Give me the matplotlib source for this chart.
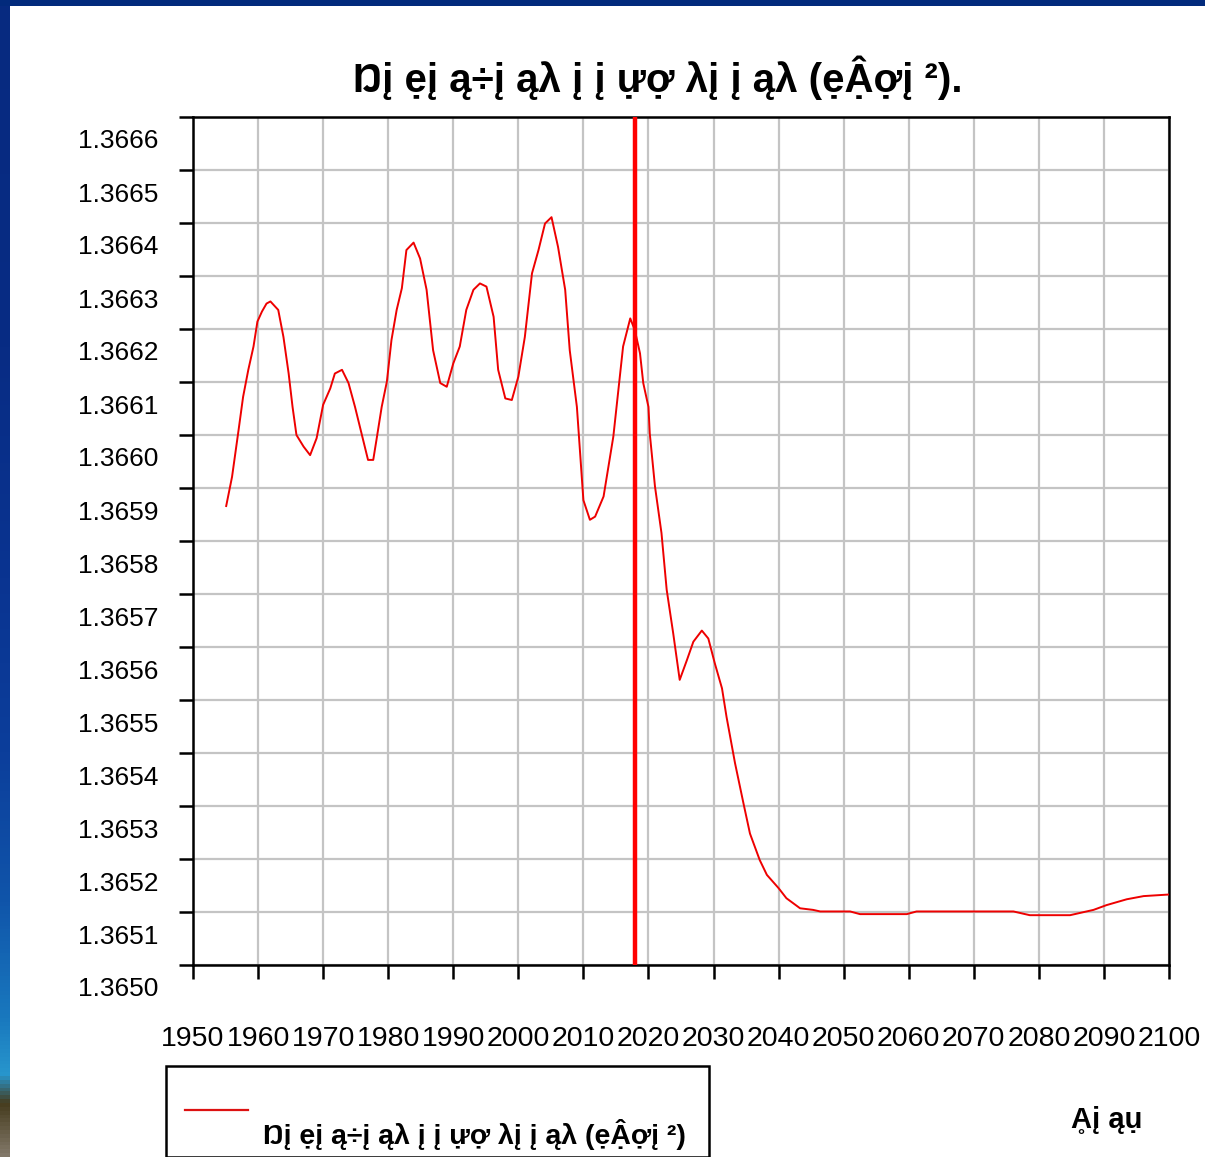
import numpy as np
import matplotlib
matplotlib.use("Agg")
import matplotlib.pyplot as plt
from matplotlib.patches import Rectangle
from matplotlib.lines import Line2D
from matplotlib.transforms import ScaledTranslation

plt.rcParams['font.family'] = ['Liberation Sans', 'DejaVu Sans']

# ---------------- data ----------------
years = [1955.1, 1956.0, 1957.0, 1957.7, 1958.5, 1959.3, 1959.9, 1960.6, 1961.3, 1961.9,
         1963.1, 1963.9, 1964.7, 1965.3, 1965.9, 1967.0, 1968.0, 1969.0, 1970.0, 1971.1,
         1971.8, 1972.9, 1973.9, 1974.9, 1975.9, 1976.9, 1977.7, 1978.2, 1979.0, 1979.8,
         1980.5, 1981.3, 1982.1, 1982.8, 1983.9, 1984.9, 1985.9, 1986.4, 1986.9, 1988.0,
         1989.0, 1990.0, 1991.0, 1992.0, 1993.1, 1994.1, 1995.1, 1996.2, 1996.9, 1998.0,
         1999.0, 2000.0, 2001.0, 2002.1, 2003.1, 2004.1, 2005.1, 2006.1, 2007.2, 2007.9,
         2009.0, 2010.0, 2011.0, 2011.8, 2013.1, 2014.6, 2016.1, 2017.2, 2017.9, 2018.7,
         2019.2, 2020.0, 2020.2, 2021.0, 2022.0, 2022.8, 2023.8, 2024.8, 2025.9, 2026.9,
         2028.2, 2029.2, 2030.2, 2031.3, 2032.0, 2033.3, 2034.6, 2035.6, 2037.1, 2038.2,
         2040.0, 2041.2, 2043.3, 2045.3, 2046.4, 2051.0, 2052.5, 2059.7, 2061.2, 2076.1,
         2078.6, 2084.8, 2088.4, 2090.4, 2093.5, 2096.1, 2100.0]
values = [1.365866, 1.365921, 1.366009, 1.366072, 1.366123, 1.366167, 1.366214, 1.366233,
          1.366248, 1.366252, 1.366236, 1.366185, 1.366116, 1.366053, 1.366000, 1.365978,
          1.365962, 1.365994, 1.366057, 1.366088, 1.366116, 1.366123, 1.366098, 1.366053,
          1.366003, 1.365953, 1.365953, 1.365991, 1.366053, 1.366101, 1.366179, 1.366236,
          1.366277, 1.366349, 1.366363, 1.366333, 1.366274, 1.366217, 1.366160, 1.366098,
          1.366091, 1.366135, 1.366167, 1.366236, 1.366274, 1.366286, 1.366280, 1.366223,
          1.366123, 1.366069, 1.366066, 1.366110, 1.366185, 1.366305, 1.366349, 1.366399,
          1.366411, 1.366355, 1.366274, 1.366160, 1.366053, 1.365877, 1.365840, 1.365846,
          1.365884, 1.365997, 1.366167, 1.366220, 1.366198, 1.366154, 1.366098, 1.366053,
          1.366003, 1.365903, 1.365815, 1.365708, 1.365626, 1.365538, 1.365575, 1.365610,
          1.365631, 1.365616, 1.365569, 1.365522, 1.365468, 1.365381, 1.365305, 1.365248,
          1.365198, 1.365170, 1.365145, 1.365126, 1.365107, 1.365104, 1.365101, 1.365101,
          1.365096, 1.365096, 1.365101, 1.365101, 1.365094, 1.365094, 1.365104, 1.365113,
          1.365124, 1.365130, 1.365133]

marker_year = 2018
x_ticks = list(range(1950, 2101, 10))
y_ticks = [round(1.3650 + i * 0.0001, 4) for i in range(17)]
y_labels = ["%.4f" % v for v in y_ticks]

title = "Ŋį ẹį ą÷į ąλ į į ựợ λį į ąλ (ẹẬợį ²)."
legend_label = "Ŋį ẹį ą÷į ąλ į į ựợ λį į ąλ (ẹẬợį ²)"
x_label = "Ḁį ąụ"

# ---------------- figure ----------------
W, H = 1205, 1157
fig = plt.figure(figsize=(W / 100, H / 100), dpi=100)
fig.patch.set_facecolor("white")

# slide background: dark top bar and gradient strip on the left
bg = fig.add_axes([0, 0, 10 / W, 1])
bg.axis("off")
strip = np.array([
    [7, 42, 128], [8, 44, 132], [10, 52, 145], [12, 62, 155],
    [16, 85, 170], [25, 120, 190], [40, 150, 205], [70, 60, 30], [130, 120, 105],
]) / 255.0
stops = np.array([0.0, 0.3, 0.5, 0.65, 0.78, 0.88, 0.93, 0.955, 1.0])
yy = np.linspace(0, 1, 300)
grad = np.stack([np.interp(yy, stops, strip[:, c]) for c in range(3)], axis=1)
bg.imshow(grad[:, None, :], aspect="auto", extent=[0, 1, 1, 0])
bg.set_xlim(0, 1)
bg.set_ylim(1, 0)
fig.patches.append(Rectangle((0, 1 - 6 / H), 1, 6 / H, transform=fig.transFigure,
                             facecolor="#022a7c", edgecolor="none", zorder=5))

ax = fig.add_axes([193 / W, (H - 965) / H, 976 / W, 848 / H])
ax.plot(years, values, color="#ee0000", lw=1.4, zorder=3)
ax.axvline(marker_year, color="#ff0000", lw=3.2, zorder=4)

ax.set_xlim(1950, 2100)
ax.set_ylim(1.3650, 1.3666)
ax.set_xticks(x_ticks)
ax.set_xticklabels([str(x) for x in x_ticks], fontsize=20.5)
ax.set_yticks(y_ticks)
ax.set_yticklabels(y_labels, fontsize=19)
ax.grid(True, color="#c4c4c4", lw=1.6)
ax.set_axisbelow(True)
for s in ax.spines.values():
    s.set_linewidth(1.8)
    s.set_color("black")
ax.tick_params(axis="both", direction="out", length=10, width=1.8, colors="black")
ax.tick_params(axis="x", pad=34)
ax.tick_params(axis="y", pad=15)

# y labels sit half a step below their ticks
shift = ScaledTranslation(0, -0.22, fig.dpi_scale_trans)
for lab in ax.get_yticklabels():
    lab.set_transform(lab.get_transform() + shift)

fig.text(658 / W, 1 - 78 / H, title, ha="center", va="center", fontsize=29,
         fontweight="bold")
fig.text(1107 / W, 1 - 1120 / H, x_label, ha="center", va="center", fontsize=21,
         fontweight="bold")

# legend box
fig.patches.append(Rectangle((166 / W, 1 - 1157 / H), (709 - 166) / W, (1157 - 1066) / H,
                             transform=fig.transFigure, facecolor="white",
                             edgecolor="black", lw=1.8))
fig.lines.append(Line2D([185 / W, 248 / W], [1 - 1110 / H, 1 - 1110 / H],
                        transform=fig.transFigure, color="#dd1111", lw=1.6))
fig.text(263 / W, 1 - 1135 / H, legend_label, ha="left", va="center", fontsize=20.5,
         fontweight="bold")

fig.savefig("out.png", dpi=100)
